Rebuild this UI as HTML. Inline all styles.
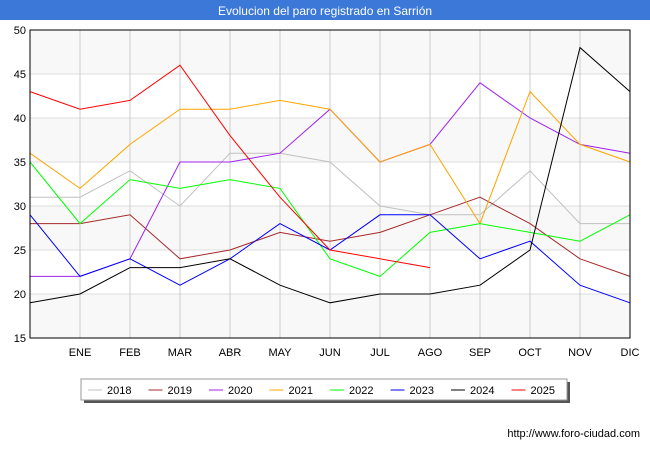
<!DOCTYPE html>
<html><head><meta charset="utf-8"><style>
body{margin:0;background:#fff;font-family:"Liberation Sans","DejaVu Sans",sans-serif}
#wrap{position:relative;width:650px;height:450px;overflow:hidden;background:#fff}
</style></head><body>
<div id="wrap">
<svg id="chart" width="650" height="450" xmlns="http://www.w3.org/2000/svg">
<rect x="0" y="0" width="650" height="20" fill="#3b78d8"/>
<text x="325" y="15" text-anchor="middle" font-size="12" fill="#fff" font-family="Liberation Sans, sans-serif">Evolucion del paro registrado en Sarrión</text>
<g id="grid"></g><g id="series"></g><g id="axes"></g>
<rect x="84" y="382" width="486" height="21" fill="#555"/>
<rect x="81" y="379" width="486" height="21" fill="#fff" stroke="#999"/>
<g id="legend"></g>
<text x="640" y="437" text-anchor="end" font-size="11" fill="#000">http://www.foro-ciudad.com</text>
</svg>
</div>
<script>
const xLabels=["","ENE","FEB","MAR","ABR","MAY","JUN","JUL","AGO","SEP","OCT","NOV","DIC"];
const yTicks=[15,20,25,30,35,40,45,50];
const seriesNames=["2018","2019","2020","2021","2022","2023","2024","2025"];
const seriesColors=["#c0c0c0","#a52a2a","#a020f0","#ffa500","#00ff00","#0000ff","#000000","#ff0000"];
const s2018=[31,31,34,30,36,36,35,30,29,29,34,28,28];
const s2019=[28,28,29,24,25,27,26,27,29,31,28,24,22];
const s2020=[22,22,24,35,35,36,41,35,37,44,40,37,36];
const s2021=[36,32,37,41,41,42,41,35,37,28,43,37,35];
const s2022=[35,28,33,32,33,32,24,22,27,28,27,26,29];
const s2023=[29,22,24,21,24,28,25,29,29,24,26,21,19];
const s2024=[19,20,23,23,24,21,19,20,20,21,25,48,43];
const s2025=[43,41,42,46,38,31,25,24,23];
const allSeries=[s2018,s2019,s2020,s2021,s2022,s2023,s2024,s2025];
const NS="http://www.w3.org/2000/svg";
const L=30,R=630,T=30,B=338,ymin=15,ymax=50;
function xs(i){return L+i*(R-L)/(xLabels.length-1);}
function ys(v){return B-(v-ymin)*(B-T)/(ymax-ymin);}
function mk(tag,attrs,parent){const e=document.createElementNS(NS,tag);for(const k in attrs)e.setAttribute(k,attrs[k]);parent.appendChild(e);return e;}
const grid=document.getElementById('grid'),ser=document.getElementById('series'),ax=document.getElementById('axes'),leg=document.getElementById('legend');
for(let k=0;k<yTicks.length-1;k++){
  if(k%2===0){const r=mk('rect',{x:L,y:ys(yTicks[k+1]),width:R-L,height:ys(yTicks[k])-ys(yTicks[k+1]),fill:'#f8f8f8'},grid);
  
  }
}
yTicks.forEach(v=>{
  const g=mk('line',{x1:L,x2:R,y1:ys(v),y2:ys(v),stroke:'#ddd','stroke-width':1},grid);
  
  
  const t=mk('text',{x:L-4,y:ys(v)+4,'text-anchor':'end','font-size':11,fill:'#000'},ax);
  t.textContent=v;
  
  
});
xLabels.forEach((lab,i)=>{
  if(i>0){const g=mk('line',{x1:xs(i),x2:xs(i),y1:T,y2:B,stroke:'#ccc','stroke-width':1},grid);
  
  }
  const t=mk('text',{x:xs(i),y:B+18,'text-anchor':'middle','font-size':11,fill:'#000'},ax);
  t.textContent=lab;
  
  
});
const frame=mk('rect',{x:L,y:T,width:R-L,height:B-T,fill:'none',stroke:'#000','stroke-width':1},ax);


allSeries.forEach((d,si)=>{
  const p=mk('polyline',{points:d.map((v,i)=>xs(i)+','+ys(v)).join(' '),fill:'none',stroke:seriesColors[si],'stroke-width':1},ser);
  
  
});
seriesNames.forEach((n,si)=>{
  const x0=88+si*60.5;
  const l=mk('line',{x1:x0,x2:x0+14,y1:390,y2:390,stroke:seriesColors[si],'stroke-width':1},leg);
  
  
  const t=mk('text',{x:x0+19,y:394,'font-size':11,fill:'#000'},leg);
  t.textContent=n;
  
  
});
</script>
</body></html>
